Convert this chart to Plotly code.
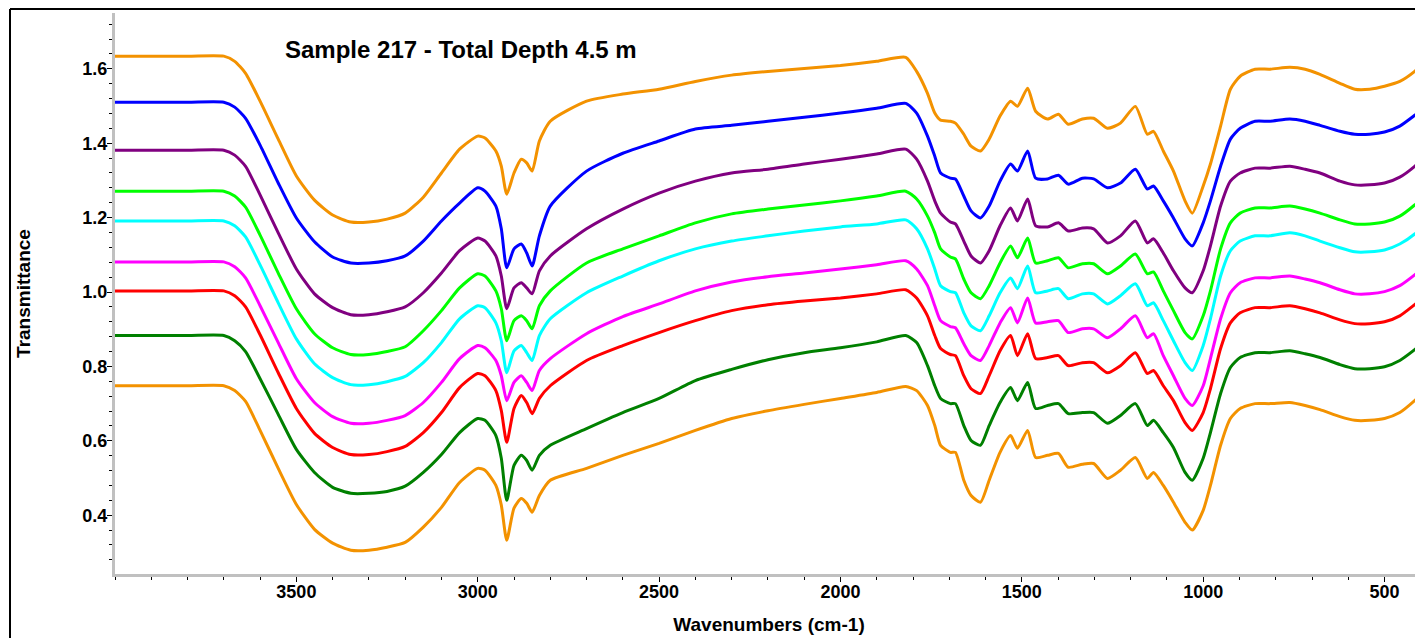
import plotly.graph_objects as go

# Wavenumbers (cm-1) at which the spectra were read
wavenumbers = [4000, 3800, 3700, 3670, 3640, 3600, 3550, 3500, 3450, 3400,
               3350, 3300, 3250, 3200, 3150, 3100, 3050, 3000, 2980, 2950,
               2935, 2920, 2900, 2880, 2865, 2850, 2830, 2800, 2700, 2600,
               2500, 2400, 2300, 2200, 2100, 2000, 1900, 1820, 1790, 1760,
               1740, 1724, 1697, 1683, 1660, 1640, 1614, 1590, 1560, 1531,
               1512, 1484, 1462, 1429, 1399, 1372, 1333, 1302, 1264, 1228,
               1187, 1154, 1137, 1110, 1082, 1050, 1030, 1000, 980, 952,
               925, 898, 857, 816, 761, 719, 678, 623, 582, 541,
               500, 458, 417, 394]

spec_orange_top = [1.634, 1.634, 1.634, 1.620, 1.588, 1.513, 1.411, 1.312, 1.247, 1.207,
                   1.188, 1.188, 1.196, 1.212, 1.255, 1.320, 1.384, 1.419, 1.414, 1.379,
                   1.338, 1.263, 1.320, 1.357, 1.347, 1.325, 1.406, 1.459, 1.513, 1.532,
                   1.545, 1.566, 1.583, 1.593, 1.601, 1.609, 1.620, 1.631, 1.593, 1.534,
                   1.481, 1.462, 1.459, 1.454, 1.424, 1.392, 1.379, 1.411, 1.473, 1.513,
                   1.499, 1.548, 1.486, 1.465, 1.478, 1.451, 1.465, 1.467, 1.440, 1.454,
                   1.499, 1.424, 1.432, 1.379, 1.325, 1.245, 1.212, 1.285, 1.344, 1.446,
                   1.545, 1.580, 1.599, 1.599, 1.604, 1.599, 1.585, 1.561, 1.545, 1.545,
                   1.553, 1.566, 1.593, 1.615]

spec_blue = [1.510, 1.510, 1.510, 1.497, 1.467, 1.395, 1.293, 1.199, 1.135, 1.094,
             1.078, 1.078, 1.084, 1.097, 1.137, 1.191, 1.239, 1.280, 1.271, 1.231,
             1.170, 1.065, 1.116, 1.129, 1.105, 1.070, 1.151, 1.231, 1.325, 1.373,
             1.406, 1.438, 1.448, 1.459, 1.470, 1.481, 1.494, 1.507, 1.481, 1.419,
             1.365, 1.320, 1.306, 1.304, 1.258, 1.218, 1.199, 1.231, 1.298, 1.344,
             1.325, 1.379, 1.306, 1.304, 1.314, 1.290, 1.306, 1.304, 1.280, 1.293,
             1.330, 1.277, 1.285, 1.245, 1.199, 1.143, 1.124, 1.186, 1.245, 1.338,
             1.411, 1.440, 1.459, 1.459, 1.465, 1.459, 1.448, 1.432, 1.424, 1.424,
             1.430, 1.446, 1.475, 1.491]

spec_purple = [1.381, 1.381, 1.381, 1.368, 1.338, 1.261, 1.159, 1.062, 0.995, 0.958,
               0.939, 0.939, 0.947, 0.960, 0.998, 1.051, 1.111, 1.145, 1.137, 1.097,
               1.043, 0.955, 1.011, 1.025, 1.011, 0.995, 1.057, 1.097, 1.170, 1.223,
               1.266, 1.298, 1.320, 1.330, 1.344, 1.357, 1.371, 1.384, 1.357, 1.298,
               1.245, 1.212, 1.188, 1.183, 1.137, 1.097, 1.078, 1.111, 1.178, 1.226,
               1.191, 1.250, 1.178, 1.175, 1.186, 1.164, 1.172, 1.170, 1.132, 1.151,
               1.191, 1.132, 1.143, 1.105, 1.057, 1.011, 0.998, 1.057, 1.124, 1.231,
               1.298, 1.320, 1.333, 1.333, 1.338, 1.330, 1.320, 1.298, 1.288, 1.288,
               1.293, 1.309, 1.338, 1.360]

spec_lime = [1.271, 1.271, 1.271, 1.258, 1.228, 1.153, 1.051, 0.955, 0.888, 0.850,
             0.832, 0.832, 0.840, 0.853, 0.896, 0.950, 1.011, 1.049, 1.043, 1.003,
             0.955, 0.869, 0.923, 0.936, 0.923, 0.901, 0.963, 1.003, 1.078, 1.116,
             1.151, 1.186, 1.210, 1.223, 1.234, 1.245, 1.258, 1.271, 1.250, 1.204,
             1.159, 1.116, 1.094, 1.089, 1.035, 0.998, 0.982, 1.017, 1.078, 1.124,
             1.092, 1.145, 1.078, 1.084, 1.092, 1.065, 1.076, 1.076, 1.049, 1.070,
             1.102, 1.049, 1.054, 1.003, 0.950, 0.891, 0.874, 0.936, 1.003, 1.116,
             1.186, 1.212, 1.226, 1.226, 1.231, 1.223, 1.212, 1.194, 1.183, 1.183,
             1.188, 1.204, 1.234, 1.255]

spec_cyan = [1.191, 1.191, 1.191, 1.178, 1.148, 1.073, 0.971, 0.874, 0.807, 0.770,
             0.751, 0.751, 0.759, 0.773, 0.810, 0.864, 0.928, 0.963, 0.958, 0.917,
             0.869, 0.783, 0.842, 0.856, 0.837, 0.816, 0.883, 0.928, 0.998, 1.043,
             1.084, 1.116, 1.137, 1.151, 1.164, 1.175, 1.183, 1.194, 1.170, 1.116,
             1.062, 1.017, 1.001, 0.998, 0.944, 0.909, 0.896, 0.936, 0.998, 1.038,
             1.009, 1.070, 0.998, 1.003, 1.009, 0.982, 0.995, 0.995, 0.968, 0.990,
             1.022, 0.963, 0.971, 0.923, 0.869, 0.810, 0.789, 0.856, 0.928, 1.043,
             1.111, 1.137, 1.151, 1.151, 1.159, 1.151, 1.137, 1.119, 1.108, 1.108,
             1.113, 1.129, 1.156, 1.178]

spec_magenta = [1.081, 1.081, 1.081, 1.068, 1.038, 0.963, 0.864, 0.767, 0.703, 0.665,
                0.647, 0.647, 0.655, 0.668, 0.703, 0.757, 0.821, 0.856, 0.850, 0.816,
                0.775, 0.708, 0.757, 0.775, 0.757, 0.735, 0.789, 0.821, 0.888, 0.934,
                0.968, 1.003, 1.027, 1.041, 1.051, 1.062, 1.073, 1.084, 1.062, 1.017,
                0.963, 0.923, 0.907, 0.904, 0.861, 0.829, 0.816, 0.856, 0.917, 0.958,
                0.917, 0.984, 0.917, 0.920, 0.923, 0.891, 0.901, 0.901, 0.877, 0.901,
                0.936, 0.877, 0.888, 0.829, 0.775, 0.714, 0.695, 0.748, 0.821, 0.928,
                0.998, 1.025, 1.038, 1.038, 1.043, 1.035, 1.025, 1.006, 0.995, 0.995,
                1.001, 1.017, 1.046, 1.065]

spec_red = [1.003, 1.003, 1.003, 0.990, 0.960, 0.885, 0.783, 0.687, 0.620, 0.582,
            0.563, 0.563, 0.571, 0.585, 0.622, 0.676, 0.743, 0.781, 0.775, 0.735,
            0.681, 0.596, 0.687, 0.722, 0.703, 0.673, 0.714, 0.748, 0.816, 0.856,
            0.891, 0.923, 0.950, 0.966, 0.976, 0.984, 0.995, 1.006, 0.984, 0.936,
            0.883, 0.848, 0.832, 0.829, 0.775, 0.740, 0.727, 0.775, 0.842, 0.883,
            0.829, 0.888, 0.821, 0.824, 0.829, 0.802, 0.810, 0.810, 0.783, 0.802,
            0.837, 0.781, 0.789, 0.748, 0.708, 0.649, 0.628, 0.676, 0.740, 0.848,
            0.917, 0.944, 0.958, 0.958, 0.963, 0.955, 0.944, 0.925, 0.915, 0.915,
            0.920, 0.936, 0.966, 0.984]

spec_green = [0.883, 0.883, 0.883, 0.869, 0.840, 0.767, 0.671, 0.577, 0.515, 0.475,
              0.459, 0.459, 0.464, 0.478, 0.515, 0.563, 0.622, 0.660, 0.655, 0.614,
              0.553, 0.440, 0.534, 0.561, 0.547, 0.521, 0.561, 0.588, 0.633, 0.676,
              0.714, 0.762, 0.792, 0.818, 0.837, 0.850, 0.866, 0.883, 0.864, 0.802,
              0.748, 0.714, 0.700, 0.700, 0.641, 0.601, 0.588, 0.641, 0.703, 0.743,
              0.708, 0.757, 0.687, 0.695, 0.700, 0.673, 0.676, 0.676, 0.647, 0.668,
              0.700, 0.641, 0.655, 0.622, 0.582, 0.515, 0.494, 0.553, 0.622, 0.727,
              0.797, 0.824, 0.837, 0.837, 0.842, 0.834, 0.824, 0.805, 0.794, 0.794,
              0.799, 0.816, 0.845, 0.864]

spec_orange_bottom = [0.748, 0.748, 0.748, 0.735, 0.706, 0.628, 0.526, 0.429, 0.362, 0.325,
                      0.306, 0.306, 0.314, 0.327, 0.368, 0.421, 0.488, 0.526, 0.521, 0.480,
                      0.427, 0.333, 0.419, 0.445, 0.432, 0.408, 0.453, 0.494, 0.526, 0.561,
                      0.593, 0.628, 0.660, 0.681, 0.698, 0.714, 0.730, 0.746, 0.735, 0.695,
                      0.641, 0.588, 0.569, 0.569, 0.494, 0.453, 0.435, 0.494, 0.569, 0.614,
                      0.580, 0.628, 0.555, 0.561, 0.566, 0.529, 0.537, 0.539, 0.499, 0.521,
                      0.555, 0.499, 0.515, 0.480, 0.435, 0.381, 0.360, 0.413, 0.480, 0.588,
                      0.660, 0.687, 0.700, 0.700, 0.703, 0.695, 0.684, 0.665, 0.655, 0.655,
                      0.660, 0.676, 0.708, 0.730]

series = [
    ("Spectrum 1", spec_orange_top, "#F39200"),
    ("Spectrum 2", spec_blue, "#0000FF"),
    ("Spectrum 3", spec_purple, "#800080"),
    ("Spectrum 4", spec_lime, "#00FF00"),
    ("Spectrum 5", spec_cyan, "#00FFFF"),
    ("Spectrum 6", spec_magenta, "#FF00FF"),
    ("Spectrum 7", spec_red, "#FF0000"),
    ("Spectrum 8", spec_green, "#008000"),
    ("Spectrum 9", spec_orange_bottom, "#F39200"),
]

x_tickvals = [3500, 3000, 2500, 2000, 1500, 1000, 500]
y_tickvals = [0.4, 0.6, 0.8, 1.0, 1.2, 1.4, 1.6]

FONT = "Liberation Sans, Arial, sans-serif"

fig = go.Figure()
for name, vals, col in series:
    fig.add_trace(go.Scatter(
        x=wavenumbers, y=vals, mode="lines", name=name,
        line=dict(color=col, width=3, shape="spline", smoothing=0.6),
        showlegend=False,
    ))

# page body adds an 8px margin, so the figure is 8px smaller than the window
W, H = 1415, 630
ml, mr, mt, mb = 107, 0, 5, 64

fig.update_layout(
    width=W, height=H,
    margin=dict(l=ml, r=mr, t=mt, b=mb),
    paper_bgcolor="white", plot_bgcolor="white",
    font=dict(family=FONT, color="black"),
    xaxis=dict(
        range=[4000, 394], showgrid=False, zeroline=False,
        showline=True, linecolor="#C0C0C0", linewidth=3,
        tickmode="array", tickvals=x_tickvals, ticktext=[str(v) for v in x_tickvals],
        ticks="outside", ticklen=5, tickwidth=1, tickcolor="black",
        minor=dict(dtick=100, tick0=0, ticks="outside", ticklen=3, tickwidth=1, tickcolor="black"),
        tickfont=dict(family=FONT, size=18, color="black", weight="bold"),
        ticklabelstandoff=-6,
        title=dict(text="<b>Wavenumbers (cm-1)</b>", font=dict(family=FONT, size=19), standoff=18),
    ),
    yaxis=dict(
        range=[0.242, 1.75], showgrid=False, zeroline=False,
        showline=True, linecolor="#C0C0C0", linewidth=3,
        tickmode="array", tickvals=y_tickvals, ticktext=[f"{v:.1f}" for v in y_tickvals],
        ticks="outside", ticklen=5, tickwidth=1, tickcolor="black",
        minor=dict(dtick=0.04, tick0=0, ticks="outside", ticklen=3, tickwidth=1, tickcolor="black"),
        tickfont=dict(family=FONT, size=18, color="black", weight="bold"),
        ticklabelstandoff=-4,
        title=dict(text="<b>Transmittance</b>", font=dict(family=FONT, size=19), standoff=47),
    ),
)

pw = W - ml - mr
ph = H - mt - mb
def px_x(p):
    return (p - ml) / pw
def px_y(p):
    return (H - mb - p) / ph

# outer frame (left and top edges visible)
fig.add_shape(type="line", xref="paper", yref="paper",
              x0=px_x(2), x1=px_x(2), y0=px_y(1), y1=px_y(640),
              line=dict(color="black", width=2))
fig.add_shape(type="line", xref="paper", yref="paper",
              x0=px_x(2), x1=px_x(1420), y0=px_y(1), y1=px_y(1),
              line=dict(color="black", width=2))

fig.add_annotation(text="<b>Sample 217 - Total Depth 4.5 m</b>",
                   xref="paper", yref="paper", x=px_x(453), y=px_y(41),
                   xanchor="center", yanchor="middle",
                   showarrow=False, font=dict(family=FONT, size=24, color="black"))

fig.write_html("out.html")
